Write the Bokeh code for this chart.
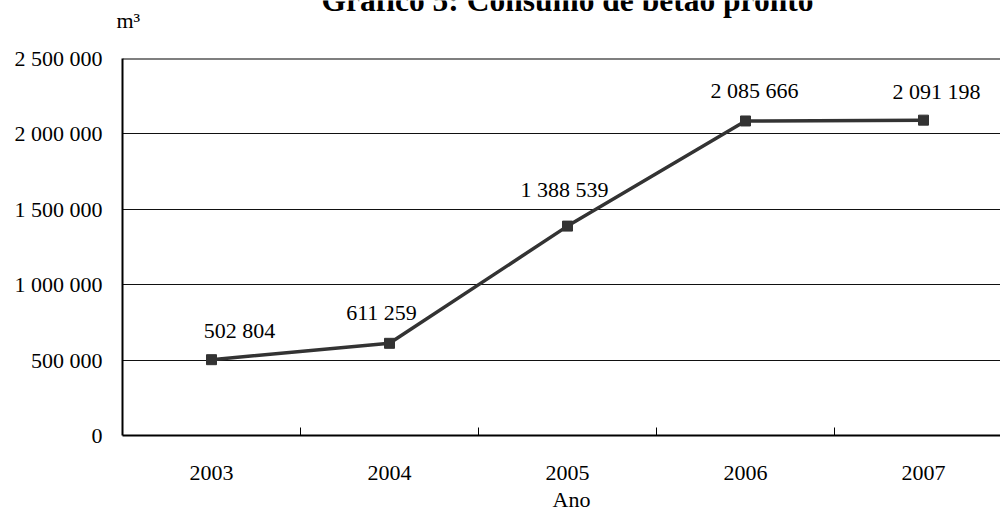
from bokeh.plotting import figure
from bokeh.layouts import column
from bokeh.models import ColumnDataSource, FixedTicker, Span, Range1d
from bokeh.core.properties import value
from bokeh.embed import file_html
from bokeh.resources import INLINE

# ---- data ----
years = ["2003", "2004", "2005", "2006", "2007"]
consumo = [502804, 611259, 1388539, 2085666, 2091198]
y_ticks = [0, 500000, 1000000, 1500000, 2000000, 2500000]
title_text = "Gráfico 5: Consumo de betão pronto"
unit_text = "m³"
x_label = "Ano"


def fmt(v):
    return f"{v:,}".replace(",", " ")


FONT = "Liberation Serif"
W = 1000
TOP_H, MAIN_H, BOT_H = 40, 446, 25
FL, FR = 122, 1000            # frame edges (px)
FT, FB = 58 - TOP_H, 435 - TOP_H
CAT_W = 178.0
Y_MAX = 2500000
TXT_SHIFT = -10               # baseline correction for text glyphs

x_pos = [i + 1 for i in range(len(years))]
x_end = 0.5 + (FR - FL) / CAT_W

# label placement (styling only)
lab_dx = [28, -8, -3, 9, 13]
lab_dy = [d + TXT_SHIFT for d in [-19, -21, -27, -20, -19]]

src = ColumnDataSource(dict(
    x=x_pos,
    y=consumo,
    lab=[fmt(v) for v in consumo],
    dx=lab_dx,
    dy=lab_dy,
))


def strip(h):
    f = figure(width=W, height=h, output_backend="svg", toolbar_location=None,
               x_range=Range1d(0, W), y_range=Range1d(h, 0),
               x_axis_type=None, y_axis_type=None, min_border=0,
               frame_align=False)
    f.outline_line_color = None
    f.xgrid.visible = False
    f.ygrid.visible = False
    return f


# ---- top strip: title (cut at the top edge, as in the reference) and unit ----
top = strip(TOP_H)
top.text(x=[567], y=[9.5], y_offset=TXT_SHIFT, text=[title_text], text_align="center",
         text_baseline="alphabetic", text_font=value(FONT),
         text_font_size="31.5px", text_font_style="bold", text_color="black")
top.text(x=[116], y=[30], y_offset=TXT_SHIFT, text=[unit_text], text_align="left",
         text_baseline="alphabetic", text_font=value(FONT),
         text_font_size="22px", text_color="black")

# ---- main chart ----
p = figure(width=W, height=MAIN_H, output_backend="svg", toolbar_location=None,
           x_range=Range1d(0.5, x_end), y_range=Range1d(0, Y_MAX),
           min_border_left=FL, min_border_right=W - FR,
           min_border_top=FT, min_border_bottom=MAIN_H - FB,
           frame_align=False)
p.outline_line_color = None

xa = p.xaxis[0]
xa.ticker = FixedTicker(ticks=x_pos, minor_ticks=[v + 0.5 for v in x_pos[:-1]])
xa.major_label_overrides = {x: y for x, y in zip(x_pos, years)}
xa.major_tick_line_color = None
xa.major_tick_out = 0
xa.major_tick_in = 0
xa.minor_tick_in = 8
xa.minor_tick_out = 0
xa.minor_tick_line_color = "black"
xa.minor_tick_line_width = 1
xa.axis_line_color = "black"
xa.axis_line_width = 2
xa.major_label_text_font = FONT
xa.major_label_text_font_size = "22px"
xa.major_label_text_color = "black"
xa.major_label_standoff = 30

ya = p.yaxis[0]
ya.ticker = FixedTicker(ticks=y_ticks)
ya.major_label_overrides = {v: fmt(v) for v in y_ticks}
ya.major_tick_line_color = None
ya.major_tick_out = 0
ya.major_tick_in = 0
ya.minor_tick_line_color = None
ya.axis_line_color = "black"
ya.axis_line_width = 2
ya.major_label_text_font = FONT
ya.major_label_text_font_size = "22px"
ya.major_label_text_color = "black"
ya.major_label_standoff = 20

p.xgrid.grid_line_color = None
p.ygrid.ticker = FixedTicker(ticks=y_ticks)
p.ygrid.grid_line_color = "#111111"
p.ygrid.grid_line_width = 1

p.add_layout(Span(location=Y_MAX, dimension="width", line_color="black", line_width=2))

p.line("x", "y", source=src, line_color="#333333", line_width=3.5)
p.scatter("x", "y", source=src, marker="square", size=10,
          fill_color="#333333", line_color="#333333")
p.text("x", "y", text="lab", source=src, x_offset="dx", y_offset="dy",
       text_align="center", text_baseline="alphabetic",
       text_font=value(FONT), text_font_size="22px", text_color="black")

# ---- bottom strip: x axis title ----
bot = strip(BOT_H)
bot.text(x=[571], y=[23], y_offset=TXT_SHIFT, text=[x_label], text_align="center",
         text_baseline="alphabetic", text_font=value(FONT),
         text_font_size="22px", text_color="black")

layout = column(top, p, bot, spacing=0)
open("out.html", "w").write(file_html(layout, INLINE))
